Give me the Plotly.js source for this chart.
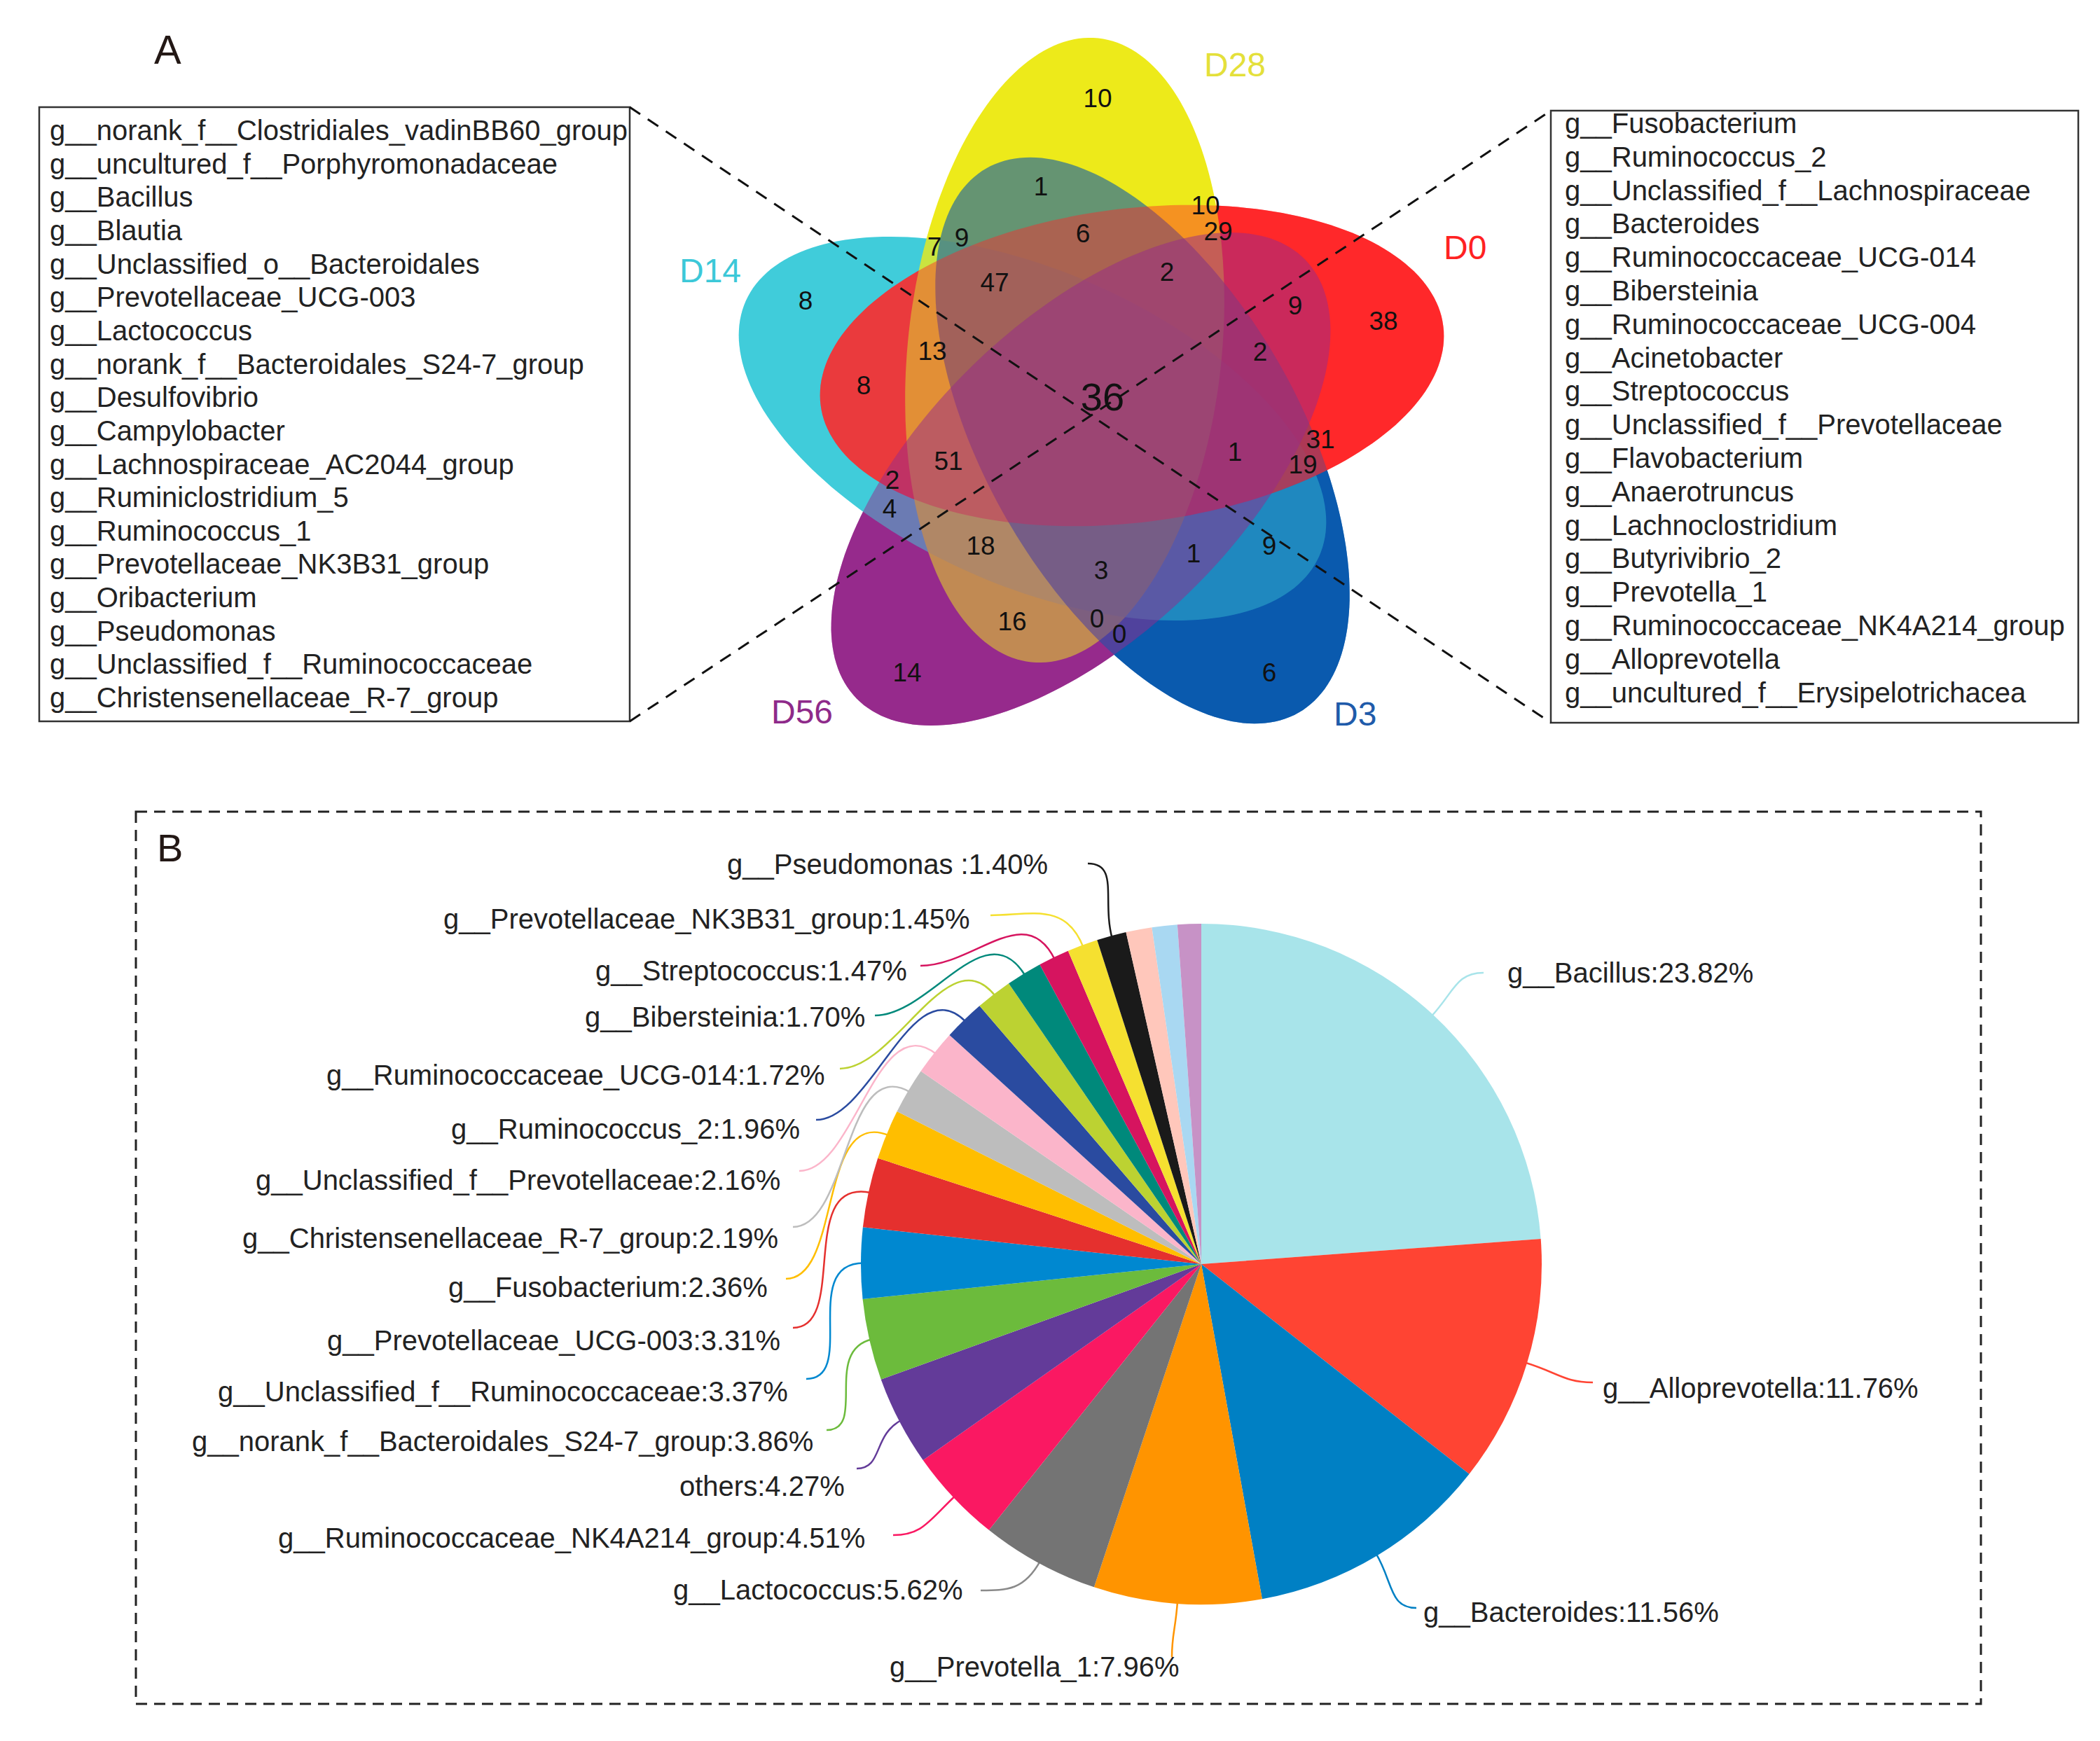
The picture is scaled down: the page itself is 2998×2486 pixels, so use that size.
<!DOCTYPE html>
<html>
<head>
<meta charset="utf-8">
<script src="https://cdn.plot.ly/plotly-3.0.1.min.js"></script>
<style>
html,body{margin:0;padding:0;background:#ffffff;}
#chart{width:2998px;height:2486px;}
</style>
</head>
<body>
<div id="chart"></div>
<script>
// ================= DATA =================
// Panel A : five-set Venn diagram (genus counts per region)
const vennSetNames = ["D28", "D0", "D3", "D56", "D14"];
const vennCounts = [10, 1, 10, 29, 7, 9, 6, 2, 47, 8, 9, 38, 13, 2, 8, 36, 31, 1, 51, 19, 2, 4, 18, 9, 1, 3, 16, 0, 0, 14, 6];

const leftGenera = [
  "g__norank_f__Clostridiales_vadinBB60_group",
  "g__uncultured_f__Porphyromonadaceae",
  "g__Bacillus",
  "g__Blautia",
  "g__Unclassified_o__Bacteroidales",
  "g__Prevotellaceae_UCG-003",
  "g__Lactococcus",
  "g__norank_f__Bacteroidales_S24-7_group",
  "g__Desulfovibrio",
  "g__Campylobacter",
  "g__Lachnospiraceae_AC2044_group",
  "g__Ruminiclostridium_5",
  "g__Ruminococcus_1",
  "g__Prevotellaceae_NK3B31_group",
  "g__Oribacterium",
  "g__Pseudomonas",
  "g__Unclassified_f__Ruminococcaceae",
  "g__Christensenellaceae_R-7_group"
];
const rightGenera = [
  "g__Fusobacterium",
  "g__Ruminococcus_2",
  "g__Unclassified_f__Lachnospiraceae",
  "g__Bacteroides",
  "g__Ruminococcaceae_UCG-014",
  "g__Bibersteinia",
  "g__Ruminococcaceae_UCG-004",
  "g__Acinetobacter",
  "g__Streptococcus",
  "g__Unclassified_f__Prevotellaceae",
  "g__Flavobacterium",
  "g__Anaerotruncus",
  "g__Lachnoclostridium",
  "g__Butyrivibrio_2",
  "g__Prevotella_1",
  "g__Ruminococcaceae_NK4A214_group",
  "g__Alloprevotella",
  "g__uncultured_f__Erysipelotrichacea"
];

// Panel B : relative abundance pie
const pieLabels = [
  "g__Bacillus", "g__Alloprevotella", "g__Bacteroides", "g__Prevotella_1",
  "g__Lactococcus", "g__Ruminococcaceae_NK4A214_group", "others",
  "g__norank_f__Bacteroidales_S24-7_group", "g__Unclassified_f__Ruminococcaceae",
  "g__Prevotellaceae_UCG-003", "g__Fusobacterium", "g__Christensenellaceae_R-7_group",
  "g__Unclassified_f__Prevotellaceae", "g__Ruminococcus_2", "g__Ruminococcaceae_UCG-014",
  "g__Bibersteinia", "g__Streptococcus", "g__Prevotellaceae_NK3B31_group", "g__Pseudomonas",
  "minor_a", "minor_b", "minor_c"
];
const pieValues = [23.82, 11.76, 11.56, 7.96, 5.62, 4.51, 4.27, 3.86, 3.37, 3.31, 2.36, 2.19, 2.16, 1.96, 1.72, 1.70, 1.47, 1.45, 1.40, 1.23, 1.20, 1.12];
const pieShownLabels = 19; // the last three small slices carry no label

// ================= STYLE / LAYOUT =================
const FONT = "Liberation Sans, Arial, Helvetica, sans-serif";
const W = 2998, H = 2486;

const pieColors = ["#A8E4EA", "#FF4433", "#0080C4", "#FF9400", "#747474", "#FA1862", "#633B99",
  "#6CBB3C", "#0088D0", "#E5302E", "#FFBE00", "#BDBDBD", "#FBB5CA", "#2A4BA0", "#BCD232",
  "#00897B", "#D6145F", "#F5E030", "#1A1A1A", "#FFC7BB", "#A9D8F2", "#C792C6"];
const leaderColors = pieColors.map((c, i) => i === 4 ? "#8A8A8A" : c);

// Venn ellipse geometry (pixels): centre x, centre y, rotation deg
const ellA = 448, ellB = 224;
const vennGeom = {
  D28: [1520, 500, -83.85],
  D0:  [1616, 522, -7.25],
  D3:  [1631, 629, 60.15],
  D56: [1543, 684, 135.6],
  D14: [1474, 612, 24.0]
};
const vennFill = {D28: "#EDEA1A", D0: "#FF282B", D3: "#0A5AAE", D56: "#962A8C", D14: "#40CCDA"};
const vennLabelColor = {D28: "#E4E03A", D0: "#FF2222", D3: "#1F5BAA", D56: "#8E2A8A", D14: "#3CC8D8"};
const vennLabelPos = {D28: [1763, 92], D0: [2091, 353], D3: [1934, 1019], D56: [1145, 1016], D14: [1014, 386]};
const basePass = ["D56", "D3", "D14", "D0", "D28"];
const tintPass = [["D14", 0.2], ["D3", 0.6], ["D0", 0.45], ["D56", 0.5]];

const countX = [1567, 1486, 1721, 1739, 1334, 1373, 1546, 1666, 1420, 1150, 1849, 1975, 1331, 1799, 1233, 1574, 1885, 1763, 1354, 1860, 1274, 1270, 1400, 1812, 1704, 1572, 1445, 1566, 1598, 1295, 1812];
const countY = [144, 270, 297, 334, 356, 343, 337, 392, 407, 433, 440, 462, 505, 506, 554, 572, 631, 649, 662, 667, 689, 730, 783, 783, 794, 818, 891, 887, 909, 964, 964];
const countSize = countX.map((x, i) => i === 15 ? 56 : 37);

// pie placement
const pieCx = 1715, pieCy = 1805, pieR = 486;

// label text anchors [x, y, xanchor] and leader end points / approach directions
const labelPos = [
  [2150, 1389, "left"], [2286, 1982, "left"], [2030, 2302, "left"], [1686, 2380, "right"],
  [1377, 2270, "right"], [1237, 2196, "right"], [1208, 2122, "right"], [1163, 2058, "right"],
  [1127, 1987, "right"], [1116, 1914, "right"], [1098, 1838, "right"], [1113, 1768, "right"],
  [1116, 1685, "right"], [1144, 1612, "right"], [1180, 1535, "right"], [1237, 1452, "right"],
  [1297, 1386, "right"], [1387, 1312, "right"], [1498, 1234, "right"]
];
const leaderEnd = [
  [2118, 1389], [2274, 1974], [2022, 2296], [1673, 2366],
  [1400, 2271], [1275, 2192], [1223, 2097], [1180, 2042],
  [1151, 1969], [1132, 1896], [1122, 1826], [1132, 1752],
  [1141, 1672], [1165, 1599], [1199, 1526], [1249, 1450],
  [1314, 1379], [1414, 1307], [1553, 1233]
];
const approach = [
  [-1, 0], [-1, 0], [-1, 0], [0, -1],
  [1, 0], [1, 0], [1, 0], [1, 0], [1, 0], [1, 0], [1, 0], [1, 0],
  [1, 0], [1, 0], [1, 0], [1, 0], [1, 0], [1, 0], [1, 0]
];

// ================= BUILD =================
function ellipsePath(cx, cy, a, b, deg) {
  const t = deg * Math.PI / 180, c = Math.cos(t), s = Math.sin(t);
  let p = "";
  for (let k = 0; k <= 200; k++) {
    const u = k / 200 * 2 * Math.PI;
    const x = cx + a * Math.cos(u) * c - b * Math.sin(u) * s;
    const y = cy + a * Math.cos(u) * s + b * Math.sin(u) * c;
    p += (k ? "L" : "M") + x.toFixed(1) + "," + y.toFixed(1);
  }
  return p + "Z";
}

const shapes = [];
function addEllipse(name, op) {
  const g = vennGeom[name];
  shapes.push({
    type: "path", xref: "x", yref: "y", layer: "below",
    path: ellipsePath(g[0], g[1], ellA, ellB, g[2]),
    fillcolor: vennFill[name], opacity: op,
    line: {width: 0, color: "rgba(0,0,0,0)"}
  });
}
basePass.forEach(n => addEllipse(n, 1));
tintPass.forEach(p => addEllipse(p[0], p[1]));

// list boxes
shapes.push({type: "rect", xref: "x", yref: "y", layer: "below", x0: 56, y0: 153, x1: 899, y1: 1030,
  line: {color: "#333333", width: 2.5}, fillcolor: "rgba(0,0,0,0)"});
shapes.push({type: "rect", xref: "x", yref: "y", layer: "below", x0: 2214, y0: 158, x1: 2967, y1: 1032,
  line: {color: "#333333", width: 2.5}, fillcolor: "rgba(0,0,0,0)"});
// dashed connectors
shapes.push({type: "line", xref: "x", yref: "y", layer: "below", x0: 899, y0: 153, x1: 2214, y1: 1032,
  line: {color: "#111111", width: 3, dash: "18px,13px"}});
shapes.push({type: "line", xref: "x", yref: "y", layer: "below", x0: 899, y0: 1030, x1: 2214, y1: 158,
  line: {color: "#111111", width: 3, dash: "18px,13px"}});
// panel B dashed frame
shapes.push({type: "rect", xref: "x", yref: "y", layer: "below", x0: 194, y0: 1159, x1: 2828, y1: 2433,
  line: {color: "#222222", width: 3, dash: "16px,10px"}, fillcolor: "rgba(0,0,0,0)"});

// pie leader lines from slice mid-angles
const total = pieValues.reduce((s, v) => s + v, 0);
let cum = 0;
const midDeg = pieValues.map(v => { const m = (cum + v / 2) / total * 360; cum += v; return m; });
for (let i = 0; i < pieShownLabels; i++) {
  const th = midDeg[i] * Math.PI / 180;
  const dir = [Math.sin(th), -Math.cos(th)];
  const E = [pieCx + (pieR - 4) * dir[0], pieCy + (pieR - 4) * dir[1]];
  const L = leaderEnd[i];
  const d = Math.hypot(L[0] - E[0], L[1] - E[1]);
  const k1 = Math.min(0.5 * d, 110), k2 = Math.min(0.4 * d, 80);
  const c1 = [E[0] + dir[0] * k1, E[1] + dir[1] * k1];
  const c2 = [L[0] + approach[i][0] * k2, L[1] + approach[i][1] * k2];
  shapes.push({
    type: "path", xref: "x", yref: "y", layer: "below",
    path: `M${E[0].toFixed(1)},${E[1].toFixed(1)} C${c1[0].toFixed(1)},${c1[1].toFixed(1)} ${c2[0].toFixed(1)},${c2[1].toFixed(1)} ${L[0]},${L[1]}`,
    line: {color: leaderColors[i], width: 2.5}
  });
}

// annotations
const annotations = [];
function txt(x, y, text, size, color, xanchor, extra) {
  annotations.push(Object.assign({
    xref: "x", yref: "y", x: x, y: y, text: text, showarrow: false,
    xanchor: xanchor || "left", yanchor: "middle",
    font: {family: FONT, size: size, color: color || "#222222"}
  }, extra || {}));
}
txt(239, 70, "A", 58, "#231815", "center");
txt(242, 1210, "B", 56, "#231815", "center");
leftGenera.forEach((g, i) => txt(69, 186 + i * 47.65, g, 40, "#222222", "left"));
rightGenera.forEach((g, i) => txt(2232, 176 + i * 47.8, g, 40, "#222222", "left"));
vennSetNames.forEach(n => txt(vennLabelPos[n][0], vennLabelPos[n][1], n, 48, vennLabelColor[n], "center"));
for (let i = 0; i < pieShownLabels; i++) {
  const name = pieLabels[i] === "g__Pseudomonas" ? pieLabels[i] + " " : pieLabels[i];
  txt(labelPos[i][0], labelPos[i][1], name + ":" + pieValues[i].toFixed(2) + "%", 40, "#222222", labelPos[i][2]);
}

const traces = [
  {
    type: "scatter", mode: "text", x: countX, y: countY,
    text: vennCounts.map(String),
    textposition: "middle center",
    textfont: {family: FONT, size: countSize, color: "#111111"},
    hoverinfo: "skip", showlegend: false, cliponaxis: false
  },
  {
    type: "pie", labels: pieLabels, values: pieValues, sort: false,
    direction: "clockwise", rotation: 0, textinfo: "none", hoverinfo: "none",
    marker: {colors: pieColors, line: {width: 0}},
    domain: {x: [(pieCx - pieR) / W, (pieCx + pieR) / W], y: [1 - (pieCy + pieR) / H, 1 - (pieCy - pieR) / H]},
    showlegend: false
  }
];

const layout = {
  width: W, height: H,
  margin: {l: 0, r: 0, t: 0, b: 0, pad: 0},
  paper_bgcolor: "#ffffff", plot_bgcolor: "rgba(0,0,0,0)",
  showlegend: false,
  xaxis: {range: [0, W], visible: false, showgrid: false, zeroline: false, fixedrange: true, domain: [0, 1]},
  yaxis: {range: [H, 0], visible: false, showgrid: false, zeroline: false, fixedrange: true, domain: [0, 1]},
  shapes: shapes,
  annotations: annotations,
  font: {family: FONT}
};

Plotly.newPlot("chart", traces, layout, {displayModeBar: false, staticPlot: true});
</script>
</body>
</html>
